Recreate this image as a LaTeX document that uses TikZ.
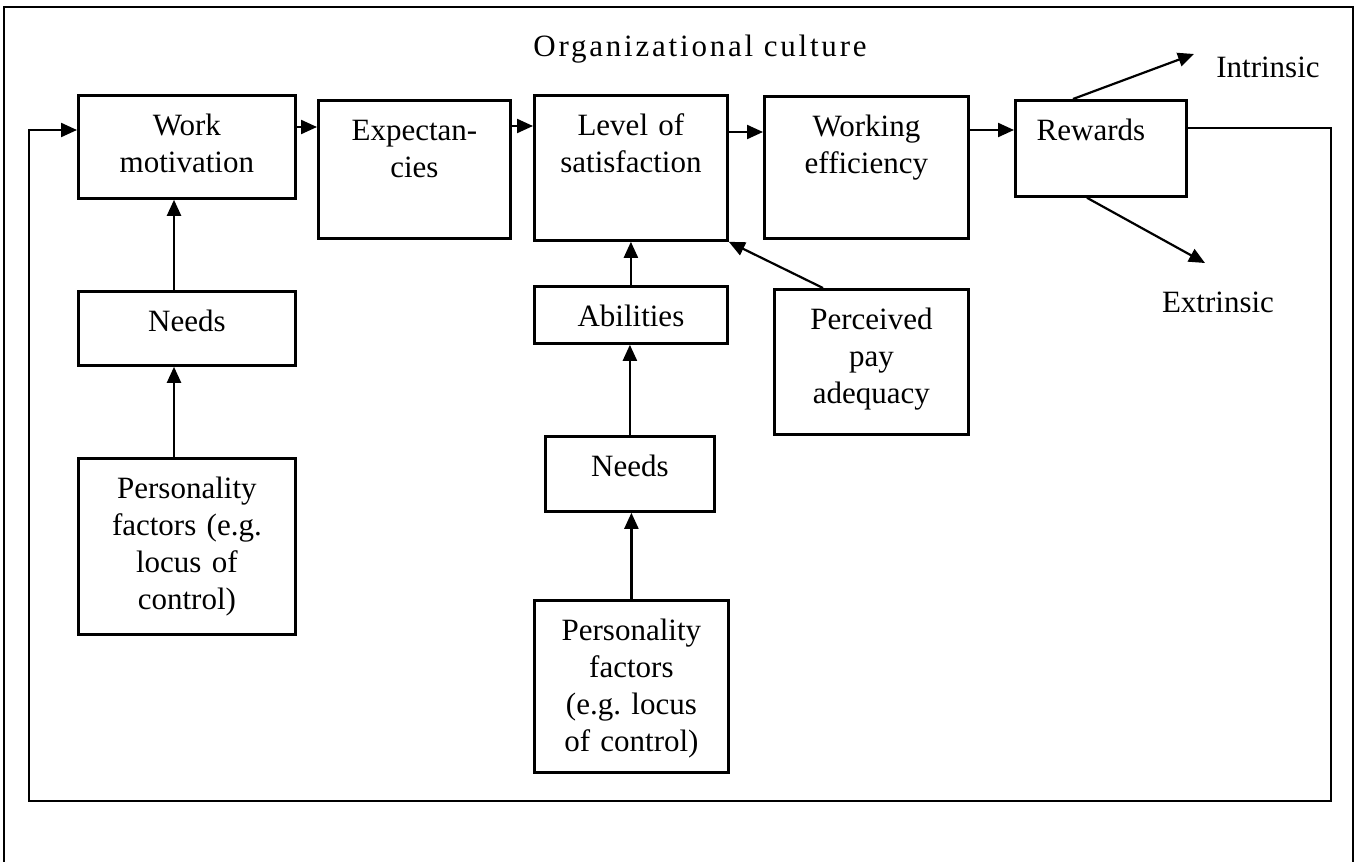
\documentclass[tikz,border=0pt]{standalone}
\usepackage{fontspec}
\setmainfont{Liberation Serif}
\usetikzlibrary{arrows.meta}

\begin{document}
\begin{tikzpicture}[x=1pt,y=-1pt,
  blk/.style 2 args={draw,line width=2.8pt,anchor=north west,inner xsep=0pt,inner ysep=0pt,
    align=center,text width=#1,text height=40pt,text depth=#2,
    font=\fontsize{31}{37}\selectfont},
  arr/.style={line width=2.2pt,-{Triangle[length=16pt,width=14pt]}},
  lbl/.style={anchor=base,font=\fontsize{31}{37}\selectfont}]
\useasboundingbox (0,0) rectangle (1360,862);
\draw[line width=2.2pt] (4,880) -- (4,7) -- (1353,7) -- (1353,880);

\node[lbl,font=\fontsize{31}{37}\selectfont\addfontfeature{LetterSpace=9}] (orgcult) at (700,56) {Organizational culture};

% top row
\node[blk={217pt}{63pt}] (wmot) at (77,94) {Work\\motivation};
\node[blk={192pt}{98pt}] (expec) at (317,99) {Expectan-\\cies};
\node[blk={193pt}{105pt}] (satis) at (533,94) {Level of\\satisfaction};
\node[blk={204pt}{102pt}] (weff) at (763,95) {Working\\efficiency};
\node[blk={171pt}{56pt}] (rewd) at (1014,99) {Rewards\rule{20pt}{0pt}};

% left column
\node[blk={217pt}{34pt}] (needsA) at (77,290) {Needs};
\node[blk={217pt}{136pt}] (persA) at (77,457) {Personality\\factors (e.g.\\locus of\\control)};

% middle column
\node[blk={193pt}{17pt}] (abil) at (533,285) {Abilities};
\node[blk={169pt}{35pt}] (needsB) at (544,435) {Needs};
\node[blk={194pt}{132pt}] (persB) at (533,599) {Personality\\factors\\(e.g.\ locus\\of control)};
\node[blk={194pt}{105pt}] (payad) at (773,288) {Perceived\\pay\\adequacy};

\node[lbl] (intr) at (1268,77) {Intrinsic};
\node[lbl] (extr) at (1218,312) {Extrinsic};
\coordinate (intip) at (1194,54);
\coordinate (extip) at (1205,263);
\coordinate (fbR) at (1331,801);
\coordinate (fbL) at (29,130);

\draw[arr] (wmot.east |- 0,127) -- (expec.west |- 0,127);
\draw[arr] (expec.east |- 0,126) -- (satis.west |- 0,126);
\draw[arr] (satis.east |- 0,132) -- (weff.west |- 0,132);
\draw[arr] (weff.east |- 0,130) -- (rewd.west |- 0,130);
\draw[arr] (rewd.east |- 0,128) -| (fbR) -| (fbL) -- (wmot.west |- 0,130);

\draw[arr] (needsA.north -| 174,0) -- (wmot.south -| 174,0);
\draw[arr] (persA.north -| 174,0) -- (needsA.south -| 174,0);
\draw[arr] (abil.north) -- (satis.south);
\draw[arr] (needsB.north) -- (abil.south -| needsB.north);
\draw[arr] (persB.north) -- (needsB.south -| persB.north);
\draw[arr] (payad.north -| 823,0) -- (satis.south east);

\draw[arr] (rewd.north -| 1073,0) -- (intip);
\draw[arr] (rewd.south -| 1087,0) -- (extip);
\end{tikzpicture}
\end{document}
